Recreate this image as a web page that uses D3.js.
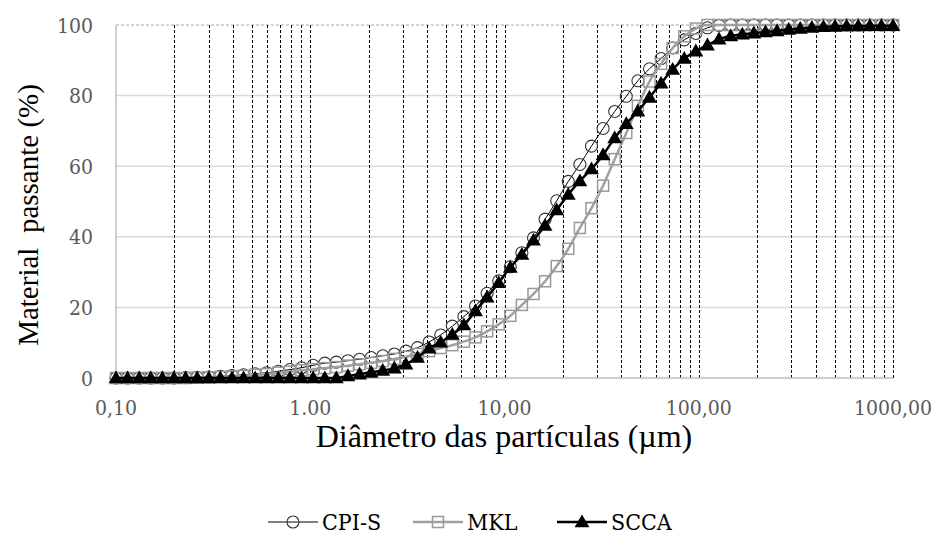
<!DOCTYPE html>
<html>
<head>
<meta charset="utf-8">
<script src="https://cdn.jsdelivr.net/npm/d3@7"></script>
<style>
  body { margin: 0; background: #fff; }
</style>
</head>
<body>
<svg width="938" height="535"></svg>
<script>
// particle diameters (µm), shared by all three series
const diameters = [
  0.100, 0.1147, 0.1316, 0.1510, 0.1733, 0.1988, 0.2281, 0.2617, 0.3003, 0.3445,
  0.3954, 0.4536, 0.5205, 0.5972, 0.6852, 0.7861, 0.9020, 1.035, 1.188, 1.362,
  1.563, 1.794, 2.058, 2.361, 2.709, 3.109, 3.567, 4.093, 4.696, 5.388,
  6.180, 7.092, 8.137, 9.335, 10.71, 12.29, 14.10, 16.18, 18.57, 21.30,
  24.44, 28.04, 32.18, 36.92, 42.36, 48.60, 55.77, 63.98, 73.41, 84.23,
  96.63, 110.9, 127.2, 146.0, 167.5, 192.1, 220.5, 252.9, 290.3, 333.0,
  382.1, 438.4, 503.0, 577.1, 662.2, 759.8, 871.8, 1000
];

// cumulative passing (%)
const cpis = [
  0, 0, 0, 0, 0, 0, 0.1, 0.2, 0.3, 0.5,
  0.7, 0.9, 1.2, 1.5, 1.9, 2.4, 2.9, 3.6, 4.2, 4.5,
  4.9, 5.3, 5.8, 6.3, 6.8, 7.6, 8.6, 10.2, 12.2, 14.7,
  17.4, 20.4, 24.0, 27.5, 31.5, 35.5, 39.7, 45.0, 50.2, 55.7,
  60.5, 65.7, 70.7, 75.5, 79.8, 84.2, 87.6, 90.5, 93.5, 95.8,
  97.6, 99.2, 99.9, 100, 100, 100, 100, 100, 100, 100,
  100, 100, 100, 100, 100, 100, 100, 100
];
const mkl = [
  0, 0, 0, 0, 0, 0, 0, 0.1, 0.2, 0.3,
  0.4, 0.6, 0.9, 1.1, 1.5, 1.8, 2.2, 2.5, 2.8, 3.1,
  3.5, 3.9, 4.3, 4.8, 5.4, 6.0, 6.8, 7.6, 8.5, 9.3,
  10.3, 11.5, 13.2, 15.2, 17.6, 20.7, 23.8, 27.4, 31.7, 36.6,
  42.5, 48.1, 54.5, 62.0, 69.4, 77.1, 84.0, 89.0, 93.5, 96.8,
  99.0, 100, 100, 100, 100, 100, 100, 100, 100, 100,
  100, 100, 100, 100, 100, 100, 100, 100
];
const scca = [
  0, 0, 0, 0, 0, 0, 0, 0, 0, 0,
  0, 0, 0, 0, 0, 0, 0, 0, 0, 0,
  0.6, 1.1, 1.6, 2.1, 2.8, 3.9, 5.8, 8.4, 10.1, 12.3,
  15.0, 19.0, 22.9, 27.0, 31.3, 35.0, 39.0, 43.2, 47.6, 52.0,
  55.8, 59.2, 63.2, 68.0, 72.0, 75.6, 79.5, 83.5, 87.4, 90.5,
  92.6, 94.3, 96.0, 96.9, 97.4, 97.7, 98.0, 98.3, 98.7, 99.0,
  99.3, 99.5, 99.6, 99.7, 99.7, 99.8, 99.8, 99.8
];

const seriesNames = ["CPI-S", "MKL", "SCCA"];
const xTicks = [0.1, 1, 10, 100, 1000];
const xTickLabels = ["0,10", "1.00", "10,00", "100,00", "1000,00"];
const yTicks = [0, 20, 40, 60, 80, 100];

const titleFont = "Liberation Serif";
const smallFont = "DejaVu Serif";   // Liberation Serif falls back to sans at small sizes here
const svg = d3.select("svg");
const x = d3.scaleLog().domain([0.1, 1000]).range([116, 893]);
const y = d3.scaleLinear().domain([0, 100]).range([378, 25]);

// vertical dashed grid at every 1..9 multiple
const minor = [];
[0.1, 1, 10, 100].forEach(dec => {
  for (let m = 1; m <= 10; m++) {
    const v = +(dec * m).toPrecision(6);
    if (v > 0.1 && !minor.includes(v)) minor.push(v);
  }
});

// horizontal grid
svg.append("g").selectAll("line")
  .data(yTicks.filter(d => d > 0 && d < 100))
  .join("line")
  .attr("x1", x(0.1)).attr("x2", x(1000))
  .attr("y1", d => y(d)).attr("y2", d => y(d))
  .attr("stroke", "#d9d9d9").attr("stroke-width", 1.5);

svg.append("line")
  .attr("x1", x(0.1)).attr("x2", x(1000))
  .attr("y1", y(100)).attr("y2", y(100))
  .attr("stroke", "#a6a6a6").attr("stroke-width", 1)
  .attr("stroke-dasharray", "3,2");

svg.append("g").selectAll("line")
  .data(minor)
  .join("line")
  .attr("x1", d => Math.round(x(d)) + 0.5).attr("x2", d => Math.round(x(d)) + 0.5)
  .attr("y1", y(100)).attr("y2", y(0))
  .attr("stroke", "#000").attr("stroke-width", 1)
  .attr("stroke-dasharray", "3,2");

// axis lines
svg.append("line")
  .attr("x1", x(0.1)).attr("x2", x(0.1))
  .attr("y1", y(100)).attr("y2", y(0))
  .attr("stroke", "#bfbfbf").attr("stroke-width", 1.5);
svg.append("line")
  .attr("x1", x(0.1)).attr("x2", x(1000))
  .attr("y1", y(0)).attr("y2", y(0))
  .attr("stroke", "#bfbfbf").attr("stroke-width", 1.5);

// tick labels
yTicks.forEach(d => {
  svg.append("text")
    .attr("x", 93).attr("y", y(d) + 7.5)
    .attr("text-anchor", "end")
    .attr("font-family", smallFont)
    .style("font-stretch", "condensed")
    .attr("font-size", 21).attr("fill", "#595959")
    .text(d);
});
xTicks.forEach((d, i) => {
  svg.append("text")
    .attr("x", x(d)).attr("y", 415)
    .attr("text-anchor", "middle")
    .attr("font-family", smallFont)
    .style("font-stretch", "condensed")
    .attr("font-size", 21).attr("fill", "#595959")
    .text(xTickLabels[i]);
});

// axis titles
svg.append("text")
  .attr("x", 504).attr("y", 447)
  .attr("text-anchor", "middle")
  .attr("font-family", titleFont)
  .attr("font-size", 32).attr("fill", "#000")
  .text("Diâmetro das partículas (µm)");

svg.append("text")
  .attr("transform", "translate(38,215) rotate(-90)")
  .attr("text-anchor", "middle")
  .attr("font-family", titleFont)
  .attr("font-size", 29).attr("fill", "#000")
  .style("white-space", "pre")
  .text("Material  passante (%)");

// series
const line = d3.line().x(d => x(d[0])).y(d => y(d[1])).curve(d3.curveMonotoneX);
const triangle = d3.symbol().type(d3.symbolTriangle).size(95);

const series = [
  { name: seriesNames[0], values: cpis, color: "#000", width: 1, marker: "circle" },
  { name: seriesNames[1], values: mkl, color: "#a0a0a0", width: 2.5, marker: "square" },
  { name: seriesNames[2], values: scca, color: "#000", width: 2.5, marker: "triangle" }
];

function drawMarker(g, type) {
  if (type === "circle") {
    g.append("circle").attr("r", 6).attr("fill", "none")
      .attr("stroke", "#333").attr("stroke-width", 1.1);
  } else if (type === "square") {
    g.append("rect").attr("x", -5.5).attr("y", -5.5).attr("width", 11).attr("height", 11)
      .attr("fill", "none").attr("stroke", "#999").attr("stroke-width", 1.5);
  } else {
    g.append("path").attr("d", triangle()).attr("transform", "translate(0,1)").attr("fill", "#000");
  }
}

series.forEach(s => {
  const pts = diameters.map((d, i) => [d, s.values[i]]);
  svg.append("path")
    .datum(pts)
    .attr("d", line)
    .attr("fill", "none")
    .attr("stroke", s.color)
    .attr("stroke-width", s.width);
  svg.append("g").selectAll("g")
    .data(pts)
    .join("g")
    .attr("transform", d => `translate(${x(d[0])},${y(d[1])})`)
    .each(function () { drawMarker(d3.select(this), s.marker); });
});

// legend
const legendX = [268, 413, 557];
series.forEach((s, i) => {
  const g = svg.append("g").attr("transform", `translate(${legendX[i]},522)`);
  g.append("line").attr("x1", 0).attr("x2", 50).attr("y1", 0).attr("y2", 0)
    .attr("stroke", s.color).attr("stroke-width", s.width);
  drawMarker(g.append("g").attr("transform", "translate(25,0)"), s.marker);
  svg.append("text")
    .attr("x", legendX[i] + 54).attr("y", 530)
    .attr("font-family", smallFont)
    .style("font-stretch", "condensed")
    .attr("font-size", 23).attr("fill", "#000")
    .text(s.name);
});
</script>
</body>
</html>
